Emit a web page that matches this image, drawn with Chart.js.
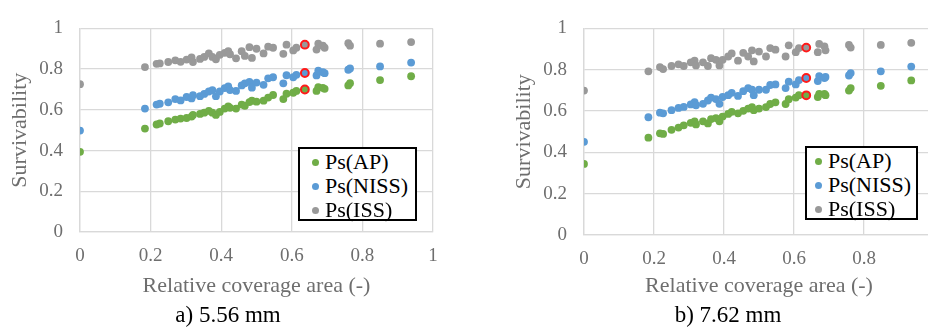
<!DOCTYPE html>
<html>
<head>
<meta charset="utf-8">
<script src="https://cdn.jsdelivr.net/npm/chart.js@4.4.1/dist/chart.umd.min.js"></script>
<style>
html, body { margin: 0; padding: 0; background: #fff; overflow: hidden; width: 928px; height: 328px; }
canvas { position: absolute; top: 0; }
.legend { position: absolute; box-sizing: border-box; border: 2px solid #000; background: #fff;
          font-family: "Liberation Serif", serif; font-size: 22px; color: #000; line-height: 24px; padding-top: 1px; }
.legend .row { position: relative; height: 24px; white-space: nowrap; }
.legend .dot { position: absolute; top: 8.5px; width: 7px; height: 7px; border-radius: 50%; }
.caption { position: absolute; top: 302px; font-family: "Liberation Serif", serif; font-size: 23px; color: #000;
           width: 200px; text-align: center; }
</style>
</head>
<body>

<canvas id="chartA" width="460" height="328" style="left:0px"></canvas>
<canvas id="chartB" width="457" height="328" style="left:504px"></canvas>

<div class="legend" id="legendA" style="left:298px; top:147px; width:119px; height:74px;"></div>
<div class="legend" id="legendB" style="left:805px; top:146px; width:113px; height:74px;"></div>

<div class="caption" style="left:128px">a) 5.56 mm</div>
<div class="caption" style="left:628px">b) 7.62 mm</div>

<script>
// -----------------------------------------
// data
// -----------------------------------------

const seriesNames = ["Ps(AP)", "Ps(NISS)", "Ps(ISS)"];
const tickLabels = ["0", "0.2", "0.4", "0.6", "0.8", "1"];

// a) 5.56 mm
const coverageA = [0, 0.184, 0.217, 0.226, 0.25, 0.27, 0.285, 0.302, 0.316, 0.32, 0.34, 0.352, 0.365, 0.375, 0.385, 0.396, 0.41, 0.42, 0.425, 0.442, 0.458, 0.467, 0.48, 0.487, 0.5, 0.52, 0.533, 0.547, 0.576, 0.585, 0.604, 0.613, 0.637, 0.67, 0.675, 0.688, 0.693, 0.76, 0.765, 0.85, 0.938];
const apA   = [0.394, 0.508, 0.528, 0.533, 0.544, 0.552, 0.557, 0.56, 0.567, 0.575, 0.58, 0.586, 0.595, 0.586, 0.575, 0.59, 0.606, 0.617, 0.61, 0.606, 0.626, 0.62, 0.638, 0.645, 0.64, 0.645, 0.66, 0.673, 0.653, 0.679, 0.684, 0.693, 0.70, 0.693, 0.711, 0.708, 0.703, 0.72, 0.731, 0.746, 0.765];
const nissA = [0.498, 0.606, 0.626, 0.63, 0.637, 0.653, 0.646, 0.663, 0.656, 0.672, 0.667, 0.678, 0.69, 0.697, 0.667, 0.69, 0.707, 0.715, 0.697, 0.693, 0.72, 0.73, 0.737, 0.709, 0.734, 0.723, 0.755, 0.76, 0.73, 0.77, 0.76, 0.772, 0.781, 0.769, 0.792, 0.785, 0.78, 0.797, 0.803, 0.813, 0.832];
const issA  = [0.726, 0.81, 0.826, 0.828, 0.835, 0.843, 0.836, 0.847, 0.857, 0.835, 0.85, 0.86, 0.877, 0.86, 0.848, 0.87, 0.88, 0.888, 0.873, 0.853, 0.888, 0.865, 0.908, 0.855, 0.9, 0.877, 0.91, 0.905, 0.875, 0.92, 0.892, 0.905, 0.92, 0.896, 0.925, 0.915, 0.905, 0.927, 0.915, 0.925, 0.933];
const markedA = 32;   // circled point

// b) 7.62 mm
const coverageB = [0, 0.184, 0.217, 0.226, 0.25, 0.27, 0.285, 0.305, 0.316, 0.32, 0.34, 0.354, 0.363, 0.377, 0.387, 0.396, 0.412, 0.422, 0.44, 0.455, 0.469, 0.48, 0.485, 0.5, 0.52, 0.532, 0.547, 0.576, 0.585, 0.605, 0.614, 0.635, 0.668, 0.672, 0.687, 0.69, 0.757, 0.762, 0.848, 0.935];
const apB   = [0.344, 0.471, 0.492, 0.489, 0.509, 0.52, 0.531, 0.543, 0.55, 0.535, 0.55, 0.54, 0.561, 0.566, 0.55, 0.573, 0.586, 0.596, 0.589, 0.601, 0.612, 0.619, 0.604, 0.612, 0.619, 0.634, 0.642, 0.634, 0.657, 0.665, 0.677, 0.676, 0.668, 0.683, 0.683, 0.677, 0.699, 0.711, 0.722, 0.748];
const nissB = [0.451, 0.57, 0.592, 0.589, 0.604, 0.615, 0.62, 0.632, 0.643, 0.628, 0.635, 0.651, 0.665, 0.658, 0.635, 0.668, 0.677, 0.688, 0.673, 0.696, 0.711, 0.703, 0.677, 0.703, 0.703, 0.726, 0.729, 0.711, 0.742, 0.729, 0.75, 0.76, 0.745, 0.769, 0.76, 0.765, 0.772, 0.784, 0.792, 0.815];
const issB  = [0.699, 0.792, 0.813, 0.803, 0.818, 0.826, 0.818, 0.836, 0.844, 0.821, 0.836, 0.818, 0.856, 0.848, 0.821, 0.848, 0.864, 0.879, 0.844, 0.882, 0.864, 0.894, 0.84, 0.888, 0.864, 0.905, 0.897, 0.864, 0.918, 0.885, 0.905, 0.907, 0.885, 0.925, 0.913, 0.894, 0.92, 0.907, 0.92, 0.93];
const markedB = 31;

// -----------------------------------------
// styles
// -----------------------------------------

const colors = ["#70AD47", "#5B9BD5", "#999999"];
const serif = "'Liberation Serif', 'Times New Roman', serif";
const axisGrey = "#6e6e6e";
const gridGrey = "#d9d9d9";

function tickText(value, index){
    return tickLabels[index];
}

function makeChart(id, xs, seriesList, marked, scaleHeight){

    let datasets = seriesList.map((ys, s) => ({
        label: seriesNames[s],
        data: xs.map((x, i) => ({ x: x, y: ys[i] })),
        backgroundColor: colors[s],
        pointRadius: 3.9,
        pointBorderColor: c => c.dataIndex === marked ? "#ff1a1a" : colors[s],
        pointBorderWidth: c => c.dataIndex === marked ? 2 : 0
    }));

    return new Chart(document.getElementById(id), {
        type: "scatter",
        data: { datasets: datasets },
        options: {
            responsive: false,
            animation: false,
            events: [],
            layout: { padding: { top: 17, right: 27, left: 0, bottom: 0 } },
            plugins: { legend: { display: false }, tooltip: { enabled: false } },
            scales: {
                x: {
                    min: 0, max: 1,
                    ticks: { stepSize: 0.2, color: axisGrey, padding: 13, callback: tickText,
                             font: { family: serif, size: 19 } },
                    grid: { color: gridGrey, lineWidth: 1.3, drawTicks: false },
                    border: { color: gridGrey, width: 1.3 },
                    title: { display: true, text: "Relative coverage area (-)", color: axisGrey,
                             font: { family: serif, size: 22 }, padding: { top: 0, bottom: 29 } },
                    afterFit: sc => { sc.height = scaleHeight; }
                },
                y: {
                    min: 0, max: 1,
                    ticks: { stepSize: 0.2, color: axisGrey, padding: 17, callback: tickText,
                             font: { family: serif, size: 19 } },
                    grid: { color: gridGrey, lineWidth: 1.3, drawTicks: false },
                    border: { color: gridGrey, width: 1.3 },
                    title: { display: true, text: "Survivability", color: axisGrey,
                             font: { family: serif, size: 22 }, padding: { top: 7, bottom: 0 } },
                    afterFit: sc => { sc.width = 80; }
                }
            }
        }
    });
}

function makeLegend(id, dotLeft, textLeft){
    let box = document.getElementById(id);
    seriesNames.forEach((name, s) => {
        let row = document.createElement("div");
        row.className = "row";
        row.innerHTML = '<span class="dot" style="left:' + dotLeft + 'px;background:' + colors[s] + '"></span>' +
                        '<span style="position:absolute;left:' + textLeft + 'px">' + name + '</span>';
        box.appendChild(row);
    });
}

makeChart("chartA", coverageA, [apA, nissA, issA], markedA, 96);
makeChart("chartB", coverageB, [apB, nissB, issB], markedB, 93);

makeLegend("legendA", 12, 25);
makeLegend("legendB", 8, 21);
</script>
</body>
</html>
